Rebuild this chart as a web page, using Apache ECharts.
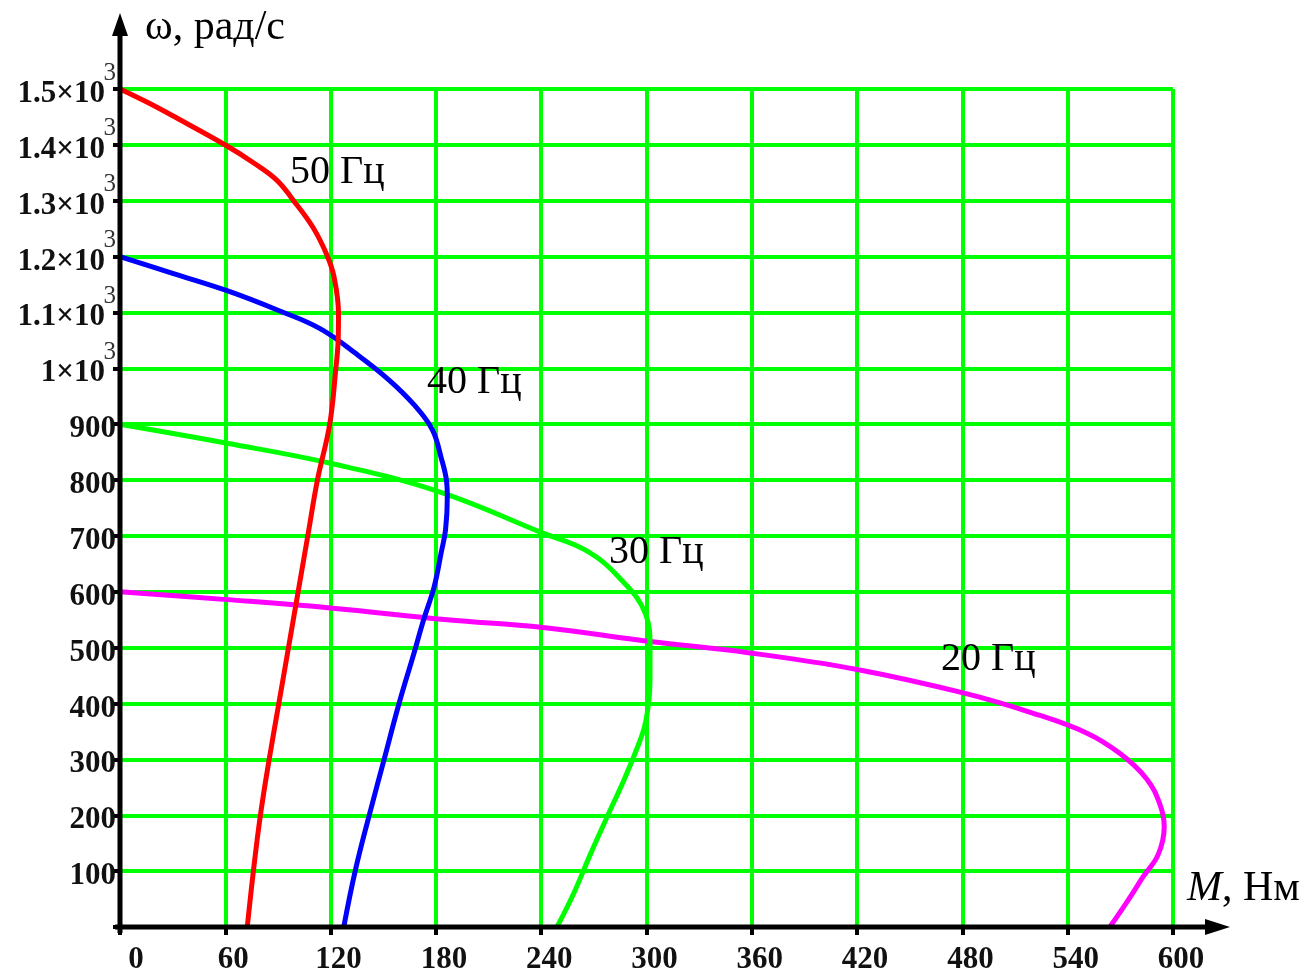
<!DOCTYPE html>
<html><head><meta charset="utf-8">
<script src="https://cdn.jsdelivr.net/npm/echarts@6/dist/echarts.min.js"></script>
<style>html,body{margin:0;padding:0;background:#fff}#c{width:1307px;height:978px}</style>
</head><body><div id="c"></div>
<script>
// Torque M (Нм) and angular speed ω (рад/с) for each supply frequency
const m50 = [0, 15, 30, 61, 76, 89.3, 98.7, 110, 118, 122, 124.5, 124.3, 123, 119.5, 112.5, 107, 101.5, 96, 90.5, 85, 80, 76, 72.5];
const w50 = [1500, 1477, 1452, 1398, 1368, 1337, 1301, 1252, 1202, 1163, 1098, 1050, 1000, 900, 800, 700, 600, 500, 400, 300, 200, 100, 0];
const m40 = [0, 30, 61, 90, 114, 135, 153, 167.5, 178, 183, 186, 186.5, 185.5, 183, 179, 173, 167.5, 159, 150.5, 142, 134, 127.5];
const w40 = [1200, 1170, 1139, 1104, 1071, 1025, 980, 935, 890, 840, 800, 770, 711, 670, 609, 550, 490, 400, 300, 200, 100, 0];
const m30 = [0, 61, 120, 182, 241, 265, 284, 299.5, 302, 302, 301.5, 299, 294, 287, 278, 268, 258.5, 249];
const w30 = [900, 866, 830, 779, 705, 675, 627, 560, 502, 450, 410, 360, 315, 262, 200, 130, 60, 0];
const m20 = [0, 61, 120, 186.5, 241, 302, 358, 420, 480.5, 520, 551, 570, 585, 592.5, 595, 591.6, 583, 573.8, 564];
const w20 = [600, 586, 571, 550, 536, 511, 491, 461, 419, 383, 347, 310, 265, 220, 180, 130, 90, 45, 0];
const curveNames = ['20 Гц', '30 Гц', '40 Гц', '50 Гц'];
const curveColors = ['#ff00ff', '#00ff00', '#0000ff', '#ff0000'];
const xMin = 0, xMax = 600, xStep = 60;
const yMin = 0, yMax = 1500, yStep = 100;
const xTitle = 'M';
const xUnit = ', Нм';
const yTitle = 'ω, рад/с';

const zip = (a, b) => a.map((v, i) => [v, b[i]]);
const curves = [zip(m20, w20), zip(m30, w30), zip(m40, w40), zip(m50, w50)];

const FONT = 'Liberation Serif';
const chart = echarts.init(document.getElementById('c'), null, {renderer: 'canvas'});

const yLabel = v => {
  if (v === 0) return '';
  if (v < 1000) return '{n|' + v + '}';
  const m = v === 1000 ? '1' : (v / 1000).toFixed(1);
  return '{n|' + m + '×10}{s|3}';
};

const baseAxisX = {type: 'value', min: xMin, max: xMax, interval: xStep};
const baseAxisY = {type: 'value', min: yMin, max: yMax, interval: yStep};

const option = {
  animation: false,
  backgroundColor: '#fff',
  grid: {left: 120, right: 134, top: 89, bottom: 51, containLabel: false},
  xAxis: [
    Object.assign({}, baseAxisX, {
      axisLine: {show: false},
      axisTick: {show: true, length: 8, lineStyle: {color: '#000', width: 4}},
      splitLine: {show: true, lineStyle: {color: '#00ff00', width: 4}},
      axisLabel: {
        margin: 17, color: '#111', fontFamily: FONT, fontWeight: 'bold', fontSize: 31,
        padding: [0, 0, 0, 16],
        formatter: v => v === 0 ? '{z|0}' : String(v),
        rich: {z: {fontFamily: FONT, fontWeight: 'bold', fontSize: 31, color: '#111', padding: [0, 0, 0, 16]}}
      }
    }),
    Object.assign({}, baseAxisX, {
      axisLine: {show: false},
      axisTick: {show: true, inside: true, length: 8, lineStyle: {color: '#000', width: 4}},
      splitLine: {show: false}, axisLabel: {show: false}
    })
  ],
  yAxis: [
    Object.assign({}, baseAxisY, {
      axisLine: {show: false},
      axisTick: {show: true, length: 7, lineStyle: {color: '#000', width: 4}},
      splitLine: {show: true, lineStyle: {color: '#00ff00', width: 4}},
      axisLabel: {
        margin: 4, formatter: yLabel,
        rich: {
          n: {fontFamily: FONT, fontWeight: 'bold', fontSize: 31, color: '#111', padding: [18, 0, 8, 0]},
          s: {fontFamily: FONT, fontWeight: 'normal', fontSize: 25, color: '#333', verticalAlign: 'top', width: 11}
        }
      }
    }),
    Object.assign({}, baseAxisY, {
      axisLine: {show: false},
      axisTick: {show: true, inside: true, length: 7, lineStyle: {color: '#000', width: 4}},
      splitLine: {show: false}, axisLabel: {show: false}
    })
  ],
  series: curves.map((d, i) => ({
    name: curveNames[i], type: 'line', data: d, showSymbol: false, smooth: 0.4,
    xAxisIndex: 0, yAxisIndex: 0, z: 3 + i,
    lineStyle: {color: curveColors[i], width: 5}
  }))
};
chart.setOption(option);

const o = chart.convertToPixel({gridIndex: 0}, [xMin, yMin]);
const xr = chart.convertToPixel({gridIndex: 0}, [xMax, yMin]);
const yt = chart.convertToPixel({gridIndex: 0}, [xMin, yMax]);
const x0 = o[0], y0 = o[1];
const arrowX = xr[0] + 57, arrowYTop = yt[1] - 76;

const txt = (x, y, text, size, extra) => ({
  type: 'text', x: x, y: y, z: 20,
  style: Object.assign({text: text, fontFamily: FONT, fontSize: size, fill: '#000', align: 'left', verticalAlign: 'middle'}, extra || {})
});

chart.setOption({
  graphic: [
    {type: 'line', z: 15, shape: {x1: x0 - 5, y1: y0, x2: arrowX - 22, y2: y0}, style: {stroke: '#000', lineWidth: 5}},
    {type: 'polygon', z: 15, shape: {points: [[arrowX, y0], [arrowX - 25, y0 - 8], [arrowX - 25, y0 + 8]]}, style: {fill: '#000'}},
    {type: 'line', z: 15, shape: {x1: x0, y1: y0 + 6, x2: x0, y2: arrowYTop + 20}, style: {stroke: '#000', lineWidth: 5}},
    {type: 'polygon', z: 15, shape: {points: [[x0, arrowYTop], [x0 - 8, arrowYTop + 23], [x0 + 8, arrowYTop + 23]]}, style: {fill: '#000'}},
    txt(145, 28, yTitle, 42),
    {type: 'text', x: 1187, y: 889, z: 20, style: {
      text: '{i|' + xTitle + '}{r|' + xUnit + '}', verticalAlign: 'middle', align: 'left',
      rich: {i: {fontFamily: FONT, fontStyle: 'italic', fontSize: 42, fill: '#000'}, r: {fontFamily: FONT, fontSize: 42, fill: '#000'}}
    }},
    txt(290, 172, curveNames[3], 40),
    txt(427, 382, curveNames[2], 40),
    txt(609, 552, curveNames[1], 40),
    txt(941, 659, curveNames[0], 40)
  ]
});
</script>
</body></html>
